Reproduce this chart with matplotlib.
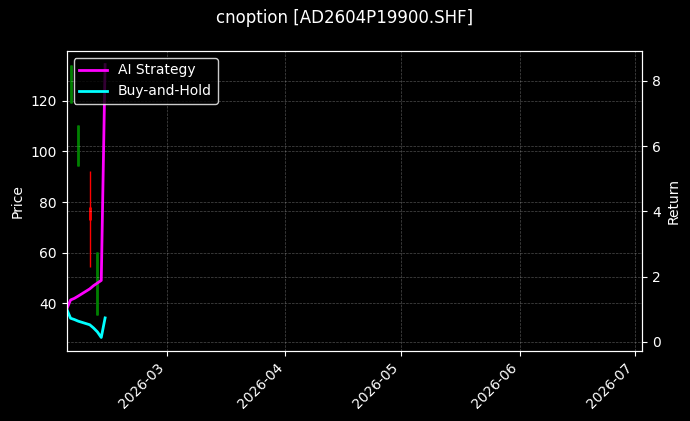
import matplotlib
matplotlib.use("Agg")
import matplotlib.pyplot as plt
import matplotlib.dates as mdates
import pandas as pd

# trading days of the backtest
fechas = pd.to_datetime(["2026-02-03", "2026-02-04", "2026-02-05", "2026-02-06",
                         "2026-02-09", "2026-02-10", "2026-02-11", "2026-02-12",
                         "2026-02-13"])

# OHLC (None = no trade that day)
apertura = [None, 119.1, None, 94.3, 78.1, None, 35.3, None, None]
maximo = [None, 134.2, None, 110.4, 92.3, None, 60.3, None, None]
minimo = [None, 119.1, None, 94.3, 54.2, None, 35.3, None, None]
cierre = [None, 134.2, None, 110.4, 72.8, None, 60.3, None, None]

# cumulative returns
ret_ai = [1.0, 1.28, 1.33, 1.40, 1.62, 1.72, 1.80, 1.88, 8.5]
ret_bh = [1.0, 0.72, 0.68, 0.63, 0.52, 0.42, 0.30, 0.13, 0.73]

titulo = "cnoption [AD2604P19900.SHF]"
x_ini = pd.Timestamp("2026-02-03")
x_fin = pd.Timestamp("2026-07-03")

plt.style.use("dark_background")
fig, ax = plt.subplots(figsize=(6.9, 4.21), dpi=100)
fig.subplots_adjust(left=0.0967, right=0.931, top=0.879, bottom=0.166)

# 1. candles
for f, o, h, l, c in zip(fechas, apertura, maximo, minimo, cierre):
    if o is None:
        continue
    color = "green" if c >= o else "red"
    ax.vlines(f, l, h, color=color, linewidth=1)
    ax.vlines(f, min(o, c), max(o, c), color=color, linewidth=2)

ax.set_ylim(21.2, 139.6)
ax.set_ylabel("Price")
ax.grid(True, linestyle="--", linewidth=0.5, alpha=0.3)

# 2. returns on twin axis
ax2 = ax.twinx()
ax2.plot(fechas, ret_ai, color="magenta", linewidth=2, label="AI Strategy")
ax2.plot(fechas, ret_bh, color="cyan", linewidth=2, label="Buy-and-Hold")
ax2.set_ylabel("Return")
ax2.grid(True, linestyle="--", linewidth=0.5, alpha=0.3)
ax2.legend(loc="upper left", facecolor="black", edgecolor="white")

ax.set_xlim(x_ini, x_fin)
ax.xaxis.set_major_locator(mdates.MonthLocator())
ax.xaxis.set_major_formatter(mdates.DateFormatter("%Y-%m"))
plt.setp(ax.get_xticklabels(), rotation=45, ha="right")

fig.suptitle(titulo, fontsize=12, y=0.957, va="center")

fig.savefig("out.png", dpi=100)
